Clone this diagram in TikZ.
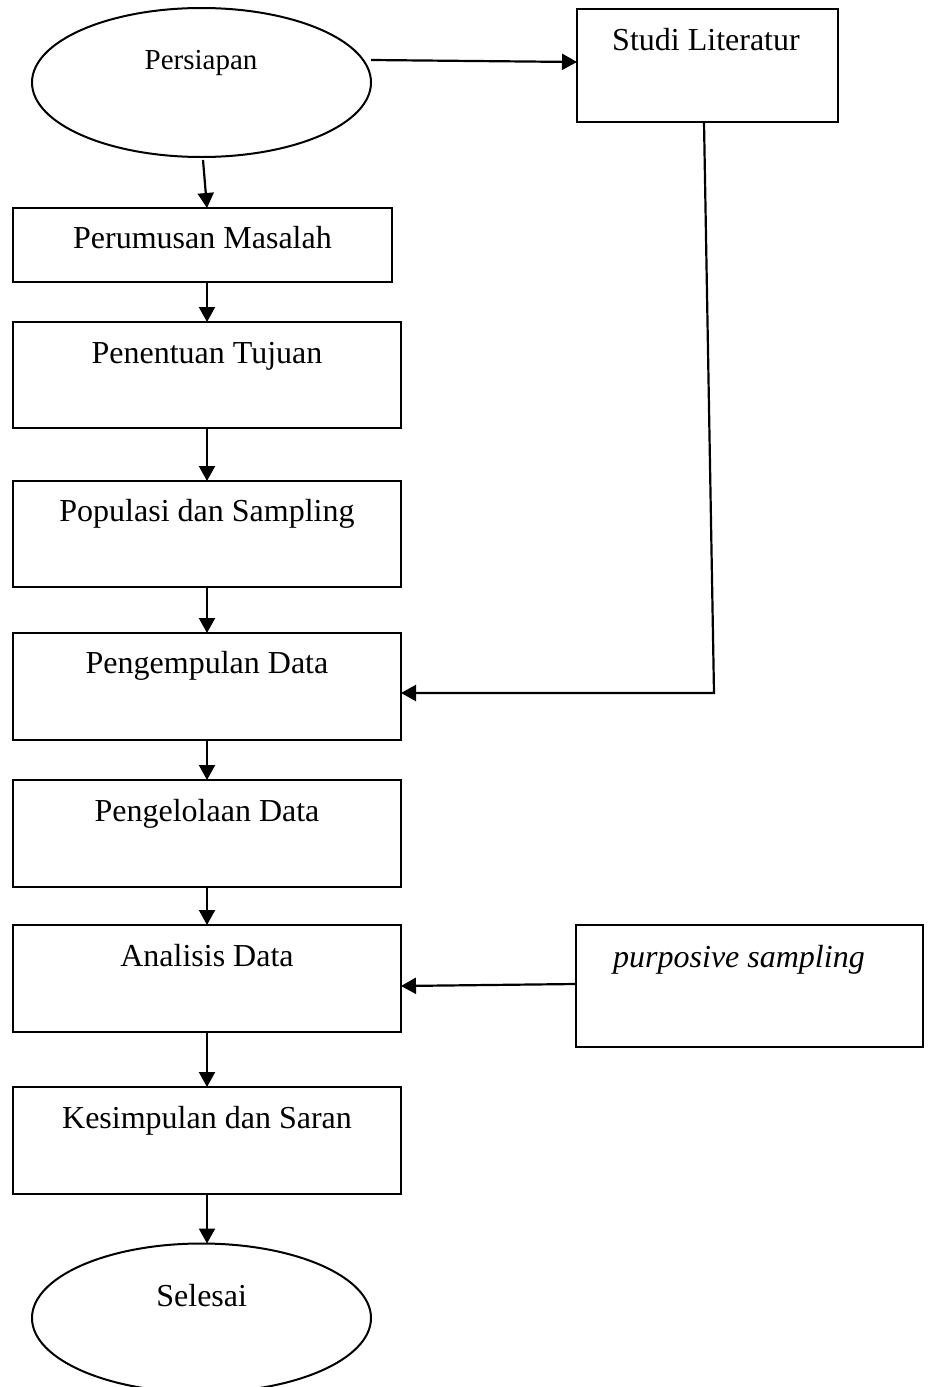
\documentclass[tikz,border=0pt]{standalone}
\usepackage{fontspec}
\setmainfont{Liberation Serif}
\usetikzlibrary{shapes.geometric,arrows.meta,calc}
\tikzset{
  box/.style={draw, line width=1.1pt, rectangle, inner sep=0pt, outer sep=0pt},
  oval/.style={draw, line width=1pt, ellipse, inner sep=0pt, outer sep=0pt, minimum width=169.5pt, minimum height=74.5pt},
  txt/.style={inner sep=0pt, outer sep=0pt, anchor=base, font=\fontsize{16pt}{19pt}\selectfont},
  smalltxt/.style={txt, font=\fontsize{14.5pt}{17pt}\selectfont},
  conn/.style={line width=1.1pt, -{Triangle[width=8pt,length=7.5pt]}},
  plain/.style={line width=1.1pt}
}
\begin{document}
\begin{tikzpicture}[x=0.5pt, y=-0.5pt]
\useasboundingbox (0,0) rectangle (929,1387);
\clip (0,0) rectangle (929,1387);
% shapes
\node[oval] (persiapan) at (201.5,82.5) {};
\node[box, minimum width=130.5pt, minimum height=56.5pt] (studi) at (707.5,65.5) {};
\node[box, minimum width=189.3pt, minimum height=37pt] (perumusan) at (202.3,245) {};
\node[box, minimum width=194pt, minimum height=53pt] (penentuan) at (207,375) {};
\node[box, minimum width=194pt, minimum height=53pt] (populasi) at (207,534) {};
\node[box, minimum width=194pt, minimum height=53.5pt] (pengempulan) at (207,686.5) {};
\node[box, minimum width=194pt, minimum height=53.5pt] (pengelolaan) at (207,833.5) {};
\node[box, minimum width=194pt, minimum height=53.5pt] (analisis) at (207,978.5) {};
\node[box, minimum width=194pt, minimum height=53.5pt] (kesimpulan) at (207,1140.5) {};
\node[box, minimum width=173.5pt, minimum height=61pt] (purposive) at (749.5,986) {};
\node[oval] (selesai) at (201.5,1318) {};
% texts
\node[smalltxt] (tpersiapan) at (201,69) {Persiapan};
\node[txt] (tstudi) at (706,50) {Studi Literatur};
\node[txt] (tperumusan) at (202.5,248) {Perumusan Masalah};
\node[txt] (tpenentuan) at (207,363) {Penentuan Tujuan};
\node[txt] (tpopulasi) at (207,521) {Populasi dan Sampling};
\node[txt] (tpengempulan) at (207,673) {Pengempulan Data};
\node[txt] (tpengelolaan) at (207,821) {Pengelolaan Data};
\node[txt] (tanalisis) at (207,966) {Analisis Data};
\node[txt] (tkesimpulan) at (207,1128) {Kesimpulan dan Saran};
\node[txt] (tpurposive) at (739,967) {\itshape purposive sampling};
\node[txt] (tselesai) at (201.7,1306) {Selesai};
% connectors
\coordinate (pa) at (371,60);
\draw[conn] (pa) -- ($(studi.west)+(0,-3.5)$);
\draw[conn] ($(persiapan.south)+(1.5,3)$) -- (perumusan.north -| penentuan.north);
\draw[conn] (perumusan.south -| penentuan.north) -- (penentuan.north);
\draw[conn] (penentuan.south) -- (populasi.north);
\draw[conn] (populasi.south) -- (pengempulan.north);
\draw[conn] (pengempulan.south) -- (pengelolaan.north);
\draw[conn] (pengelolaan.south) -- (analisis.north);
\draw[conn] (analisis.south) -- (kesimpulan.north);
\draw[conn] (kesimpulan.south) -- (kesimpulan.south |- selesai.north);
\coordinate (sl) at ($(studi.south)+(-3.5,0)$);
\coordinate (bend) at (714,693);
\draw[conn] (sl) -- (bend) -- (bend -| pengempulan.east);
\draw[conn] ($(purposive.west)+(0,-2)$) -- (purposive.west -| analisis.east);
\end{tikzpicture}
\end{document}
